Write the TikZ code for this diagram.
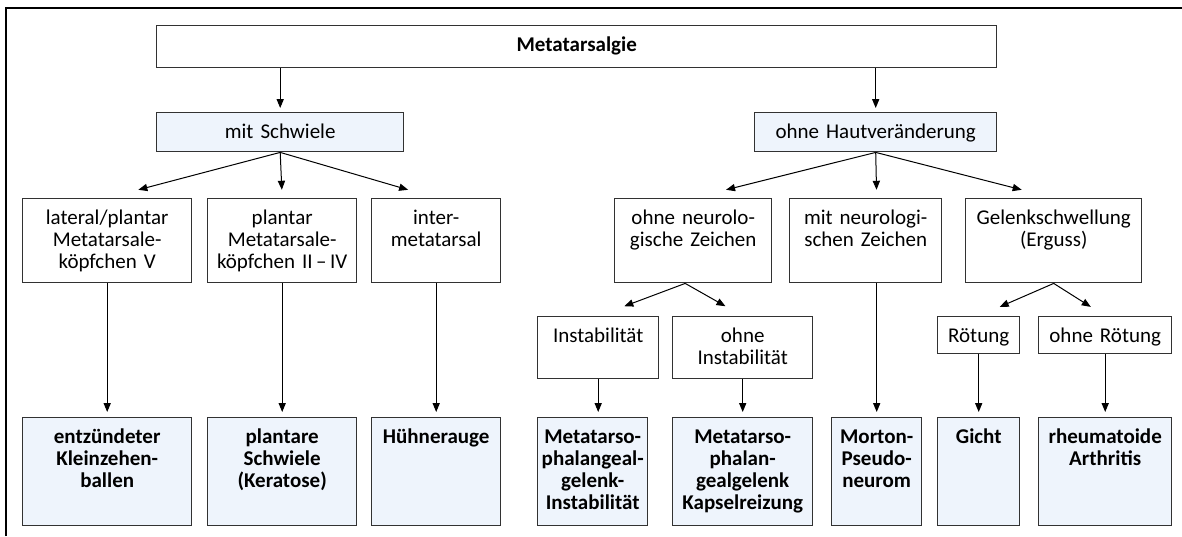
\documentclass[tikz,border=0pt]{standalone}
\usepackage{fontspec}
\setmainfont{Carlito}
\usetikzlibrary{arrows.meta, calc}
\definecolor{paleblue}{RGB}{238,244,252}
\definecolor{boxline}{RGB}{50,50,50}
\hyphenpenalty=10000

\begin{document}
\begin{tikzpicture}[x=0.5pt, y=-0.5pt,
    box/.style={draw=boxline, line width=0.7pt, anchor=north west, align=center,
        inner xsep=2pt, inner ysep=3pt, text height=10pt, font=\fontsize{10.5}{10.9}\selectfont},
    finding/.style={box, fill=paleblue},
    result/.style={box, fill=paleblue, font=\fontsize{10.5}{10.9}\selectfont\bfseries},
    arr/.style={-{Triangle[length=4.5pt,width=3.6pt]}, line width=0.5pt}]
    \useasboundingbox (0,0) rectangle (1182,536);
    \draw[line width=1pt] (6,536) -- (6,8) -- (1182,8);
    % Nodes
    \node (meta) [box, text width=416pt, text depth=5pt] at (156,25) {\textbf{Metatarsalgie}};
    \node (schwiele) [finding, text width=119.5pt, text depth=3.5pt] at (156,112) {mit Schwiele};
    \node (haut) [finding, text width=117pt, text depth=3.5pt] at (754,112) {ohne Hautveränderung};

    \node (lp) [box, text width=80.5pt, text depth=26pt] at (22,198) {lateral/plantar\\Metatarsale-\\köpfchen V};
    \node (pm) [box, text width=70.5pt, text depth=26pt] at (207,198) {plantar\\Metatarsale-\\köpfchen II\,–\,IV};
    \node (im) [box, text width=60.5pt, text depth=26pt] at (371,198) {inter-\\metatarsal};
    \node (ohneneuro) [box, text width=74.5pt, text depth=26pt] at (614,198) {ohne neurolo-\\gische Zeichen};
    \node (mitneuro) [box, text width=72pt, text depth=26pt] at (789,198) {mit neurologi-\\schen Zeichen};
    \node (gelenk) [box, text width=84pt, text depth=26pt] at (965,198) {Gelenkschwellung\\(Erguss)};

    \node (instab) [box, text width=56.5pt, text depth=15pt] at (537,316) {Instabilität};
    \node (ohneinstab) [box, text width=66pt, text depth=15pt] at (672,316) {ohne\\Instabilität};
    \node (roet) [box, text width=37pt, text depth=2.5pt] at (937,316) {Rötung};
    \node (ohneroet) [box, text width=62.5pt, text depth=2.5pt] at (1038,316) {ohne Rötung};

    \node (entz) [result, text width=80.5pt, text depth=38pt] at (22,417) {entzündeter\\Kleinzehen-\\ballen};
    \node (plantare) [result, text width=70.5pt, text depth=38pt] at (207,417) {plantare\\Schwiele\\(Keratose)};
    \node (huehner) [result, text width=60.5pt, text depth=38pt] at (371,417) {Hühnerauge};
    \node (mpi) [result, text width=51pt, text depth=38pt] at (537,417) {Metatarso-\\phalangeal-\\gelenk-\\Instabilität};
    \node (mpk) [result, text width=66pt, text depth=38pt] at (672,417) {Metatarso-\\phalan-\\gealgelenk\\Kapselreizung};
    \node (morton) [result, text width=41pt, text depth=38pt] at (831,417) {Morton-\\Pseudo-\\neurom};
    \node (gicht) [result, text width=37pt, text depth=38pt] at (937,417) {Gicht};
    \node (rheuma) [result, text width=62.5pt, text depth=38pt] at (1038,417) {rheumatoide\\Arthritis};
    % Arrows
    \draw[arr, shorten >=2pt] (schwiele.north |- meta.south) -- (schwiele.north);
    \draw[arr, shorten >=2pt] (haut.north |- meta.south) -- (haut.north);
    \draw[arr] (schwiele.south) -- ($(schwiele.south)!0.82!(lp.north)$);
    \draw[arr] (schwiele.south) -- ($(schwiele.south)!0.82!(pm.north)$);
    \draw[arr] (schwiele.south) -- ($(schwiele.south)!0.82!(im.north)$);
    \draw[arr] (haut.south) -- ($(haut.south)!0.82!(ohneneuro.north)$);
    \draw[arr] (haut.south) -- ($(haut.south)!0.82!(morton.north |- mitneuro.north)$);
    \draw[arr] (haut.south) -- ($(haut.south)!0.82!(gelenk.north)$);
    \draw[arr] ([xshift=-4pt]ohneneuro.south) -- ($([xshift=-4pt]ohneneuro.south)!0.7!(instab.north)$);
    \draw[arr] ([xshift=-4pt]ohneneuro.south) -- ($([xshift=-4pt]ohneneuro.south)!0.7!(ohneinstab.north)$);
    \draw[arr] (gelenk.south) -- ($(gelenk.south)!0.72!(roet.north)$);
    \draw[arr] (gelenk.south) -- ($(gelenk.south)!0.72!(ohneroet.north)$);
    \draw[arr, shorten >=2.5pt] (lp.south) -- (entz.north);
    \draw[arr, shorten >=2.5pt] (pm.south) -- (plantare.north);
    \draw[arr, shorten >=2.5pt] (im.south) -- (huehner.north);
    \draw[arr, shorten >=2.5pt] (instab.south) -- (instab.south |- mpi.north);
    \draw[arr, shorten >=2.5pt] (ohneinstab.south) -- (mpk.north);
    \draw[arr, shorten >=2.5pt] (morton.north |- mitneuro.south) -- (morton.north);
    \draw[arr, shorten >=2.5pt] (roet.south) -- (gicht.north);
    \draw[arr, shorten >=2.5pt] (ohneroet.south) -- (rheuma.north);
\end{tikzpicture}
\end{document}
